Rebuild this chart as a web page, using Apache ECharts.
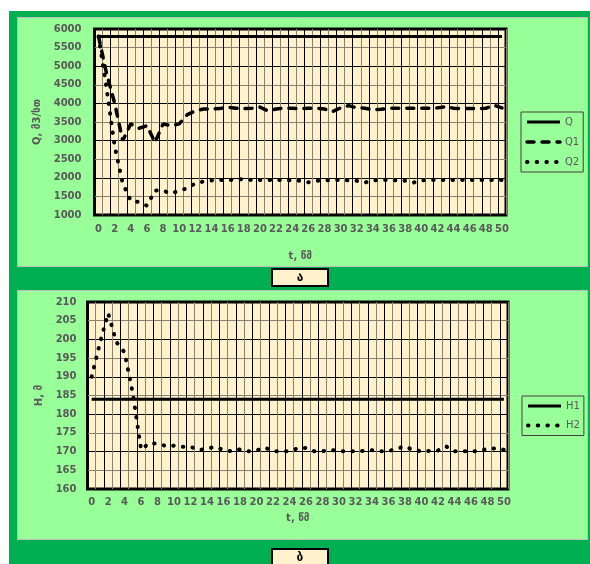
<!DOCTYPE html>
<html><head><meta charset="utf-8">
<script src="https://cdn.jsdelivr.net/npm/echarts@6/dist/echarts.min.js"></script>
<style>html,body{margin:0;padding:0;background:#fff;}#c{width:590px;height:564px;}</style>
</head><body><div id="c"></div>
<script>
const tCategories = ['0','1','2','3','4','5','6','7','8','9','10','11','12','13','14','15','16','17','18','19','20','21','22','23','24','25','26','27','28','29','30','31','32','33','34','35','36','37','38','39','40','41','42','43','44','45','46','47','48','49','50'];

const qValues = [5800,5800,5800,5800,5800,5800,5800,5800,5800,5800,5800,5800,5800,5800,5800,5800,5800,5800,5800,5800,5800,5800,5800,5800,5800,5800,5800,5800,5800,5800,5800,5800,5800,5800,5800,5800,5800,5800,5800,5800,5800,5800,5800,5800,5800,5800,5800,5800,5800,5800,5800];
const q1Values = [5800,4800,4000,3000,3450,3330,3400,2950,3450,3400,3450,3700,3800,3850,3850,3860,3900,3870,3860,3870,3900,3800,3850,3870,3870,3860,3870,3870,3850,3780,3880,3940,3880,3870,3830,3840,3870,3870,3870,3870,3870,3870,3880,3910,3870,3860,3860,3860,3870,3950,3880];
const q2Values = [5800,4400,2850,1850,1380,1350,1250,1660,1650,1580,1650,1720,1850,1900,1930,1940,1940,1950,1970,1940,1940,1940,1940,1940,1930,1920,1880,1920,1930,1940,1940,1930,1920,1870,1930,1940,1940,1930,1920,1870,1930,1940,1940,1940,1940,1940,1940,1940,1940,1940,1940];

const h1Values = [184,184,184,184,184,184,184,184,184,184,184,184,184,184,184,184,184,184,184,184,184,184,184,184,184,184,184,184,184,184,184,184,184,184,184,184,184,184,184,184,184,184,184,184,184,184,184,184,184,184,184];
const h2Values = [190,199,207,199.3,196.5,185.5,170.5,172.3,172.1,171.5,171.6,171.3,171.3,170.4,170.8,171.3,170.4,170.1,170.6,170.1,170.3,171.1,170.1,170.1,170.1,170.9,171,170.1,170.1,170.5,170.1,170.1,170.1,170.2,170.4,170.1,170.1,170.8,171.4,170.4,170.1,170.2,170.3,171.4,170.1,170.1,170.1,170.1,170.8,170.8,170.5];

const xName = 't, წმ';
const qAxisName = 'Q, მ3/სთ';
const hAxisName = 'H, მ';
const panelLabels = ['ა', 'ბ'];

const FONT = 'DejaVu Sans';
const GRAY = '#595959';
const MAJOR = '#000000';
const MINOR = '#8c8170';

function xAxisCfg(gi, gap, margin) {
  return {
    type: 'category', gridIndex: gi, data: tCategories, boundaryGap: true,
    axisLine: {show: false}, axisTick: {show: false},
    axisLabel: {interval: 1, margin: margin, color: GRAY, fontFamily: FONT, fontWeight: 'bold', fontSize: 10},
    splitLine: {show: true, interval: 0, lineStyle: {color: [MAJOR, MINOR], width: 1}},
    name: xName, nameLocation: 'middle', nameGap: gap,
    nameTextStyle: {color: GRAY, fontFamily: FONT, fontWeight: 'bold', fontSize: 10}
  };
}
function yAxisCfg(gi, min, max, step, name, gap, margin) {
  return {
    type: 'value', gridIndex: gi, min: min, max: max, interval: step,
    axisLine: {show: false}, axisTick: {show: false},
    axisLabel: {margin: margin, color: GRAY, fontFamily: FONT, fontWeight: 'bold', fontSize: 10, formatter: function (v) { return String(v); }},
    splitLine: {show: true, lineStyle: {color: [MAJOR, MINOR], width: 1}},
    name: name, nameLocation: 'middle', nameGap: gap, nameRotate: 90,
    nameTextStyle: {color: GRAY, fontFamily: FONT, fontWeight: 'bold', fontSize: 10}
  };
}
const solid = {color: '#000', width: 3};
const dashed = {color: '#000', width: 3.5, type: [7, 8], cap: 'round'};
const dotted = {color: '#000', width: 4, type: [0.5, 9.2], cap: 'round'};
function line(name, xi, data, ls) {
  return {name: name, type: 'line', xAxisIndex: xi, yAxisIndex: xi, data: data, symbol: 'none', showSymbol: false,
    lineStyle: ls, itemStyle: {color: '#000'}, emphasis: {disabled: true}, silent: true, animation: false};
}
function legendCfg(names, left, top, gap) {
  return {
    data: names, orient: 'vertical', left: left, top: top, padding: [5, 4, 5, 4], itemGap: gap,
    itemWidth: 33, itemHeight: 10, borderColor: '#404040', borderWidth: 1, backgroundColor: 'transparent',
    itemStyle: {opacity: 0, color: 'transparent', borderWidth: 0},
    lineStyle: {width: 'inherit', type: 'inherit', cap: 'inherit', color: 'inherit'},
    textStyle: {color: GRAY, fontFamily: FONT, fontSize: 10}, selectedMode: false
  };
}

const chart = echarts.init(document.getElementById('c'), null, {renderer: 'canvas'});
chart.setOption({
  animation: false,
  graphic: [
    {type: 'rect', z: -100, shape: {x: 9, y: 11, width: 581, height: 553}, style: {fill: '#00B050'}},
    {type: 'rect', z: -99, shape: {x: 17.5, y: 17.5, width: 570, height: 249}, style: {fill: '#99FF99', stroke: '#BFBFBF', lineWidth: 1}},
    {type: 'rect', z: -99, shape: {x: 17.5, y: 290.5, width: 570, height: 249}, style: {fill: '#99FF99', stroke: '#BFBFBF', lineWidth: 1}},
    {type: 'rect', z: -98, shape: {x: 272, y: 269, width: 56, height: 17}, style: {fill: '#FFF2CC', stroke: '#000', lineWidth: 2}},
    {type: 'text', z: -97, x: 300, y: 278, style: {text: panelLabels[0], fill: '#000', font: 'bold 12px "DejaVu Sans"', textAlign: 'center', textVerticalAlign: 'middle'}},
    {type: 'rect', z: -98, shape: {x: 272, y: 549, width: 56, height: 20}, style: {fill: '#FFF2CC', stroke: '#000', lineWidth: 2}},
    {type: 'text', z: -97, x: 300, y: 558, style: {text: panelLabels[1], fill: '#000', font: 'bold 12px "DejaVu Sans"', textAlign: 'center', textVerticalAlign: 'middle'}}
  ],
  grid: [
    {left: 94.5, top: 29, width: 411.5, height: 186, show: true, backgroundColor: '#FFF2CC', borderColor: '#000', borderWidth: 3, outerBoundsMode: 'none'},
    {left: 87.5, top: 302, width: 420.5, height: 187, show: true, backgroundColor: '#FFF2CC', borderColor: '#000', borderWidth: 3, outerBoundsMode: 'none'}
  ],
  xAxis: [xAxisCfg(0, 36, 9), xAxisCfg(1, 24, 8)],
  yAxis: [yAxisCfg(0, 1000, 6000, 500, qAxisName, 41, 13), yAxisCfg(1, 160, 210, 5, hAxisName, 37, 11)],
  legend: [legendCfg(['Q', 'Q1', 'Q2'], 521, 112, 10), legendCfg(['H1', 'H2'], 522, 396, 9.5)],
  series: [
    line('Q', 0, qValues, solid),
    line('Q1', 0, q1Values, dashed),
    line('Q2', 0, q2Values, dotted),
    line('H1', 1, h1Values, solid),
    line('H2', 1, h2Values, dotted)
  ]
});
</script></body></html>
